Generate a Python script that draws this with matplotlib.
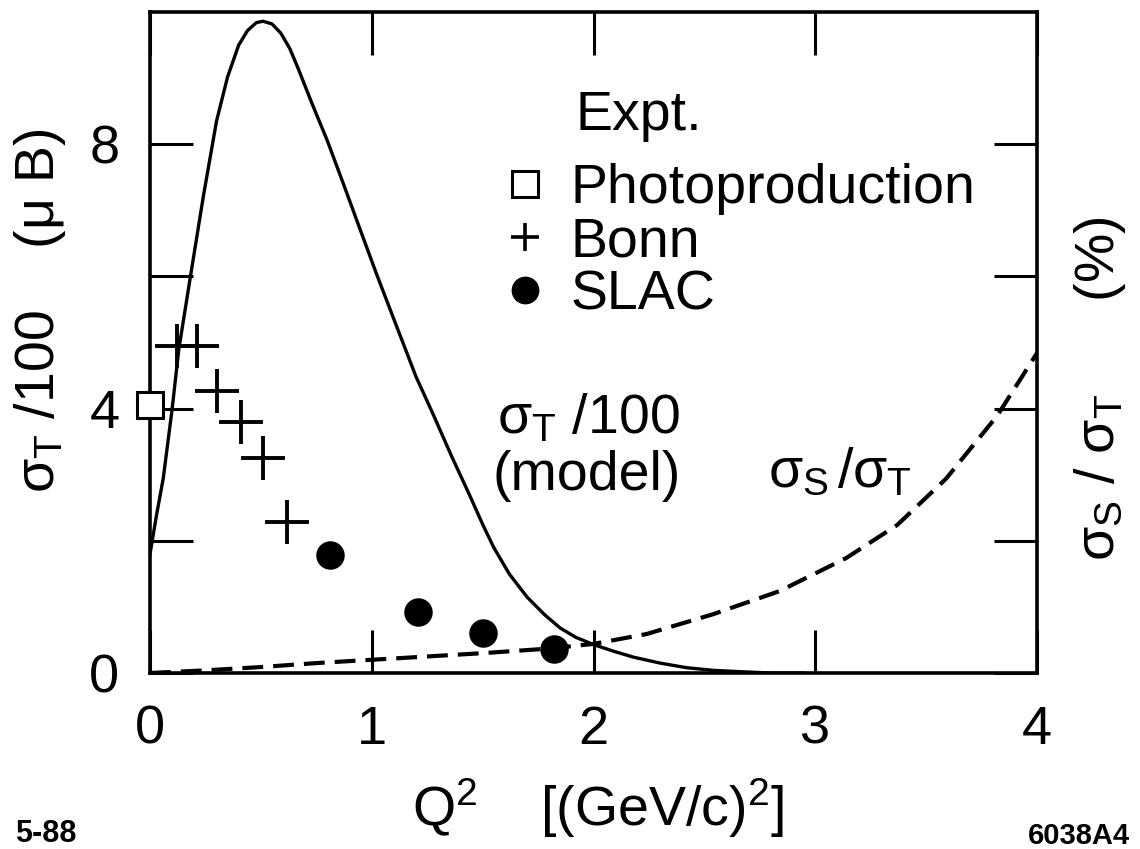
import matplotlib
matplotlib.use("Agg")
import matplotlib.pyplot as plt
from matplotlib.lines import Line2D

plt.rcParams['font.family'] = ['Liberation Sans', 'DejaVu Sans']
plt.rcParams['mathtext.fontset'] = 'custom'
plt.rcParams['mathtext.rm'] = 'Liberation Sans'
plt.rcParams['mathtext.it'] = 'Liberation Sans'
plt.rcParams['mathtext.bf'] = 'Liberation Sans:bold'

# model sigma_T/100 (solid line)
model_q2 = [0.0, 0.03, 0.06, 0.10, 0.13, 0.18, 0.24, 0.30, 0.35, 0.40, 0.44,
            0.48, 0.51, 0.55, 0.59, 0.63, 0.67, 0.73, 0.80, 0.87, 0.94, 1.02,
            1.10, 1.20, 1.28, 1.36, 1.44, 1.50, 1.55, 1.62, 1.70, 1.78, 1.85,
            1.92, 2.00, 2.09, 2.18, 2.30, 2.42, 2.54, 2.66, 2.80, 2.95]
model_sigma = [1.8, 2.4, 2.95, 4.0, 4.9, 5.95, 7.2, 8.35, 9.02, 9.5, 9.72,
               9.84, 9.86, 9.82, 9.68, 9.45, 9.13, 8.62, 8.05, 7.42, 6.78, 6.05,
               5.35, 4.48, 3.89, 3.28, 2.7, 2.25, 1.9, 1.5, 1.15, 0.88, 0.68,
               0.54, 0.43, 0.33, 0.24, 0.15, 0.08, 0.04, 0.02, 0.0, 0.0]

# sigma_S/sigma_T (dashed line)
ratio_q2 = [0.0, 0.25, 0.5, 0.75, 1.0, 1.25, 1.5, 1.8, 2.0, 2.24, 2.54, 2.84,
            3.14, 3.37, 3.59, 3.82, 4.0]
ratio_pct = [0.0, 0.04, 0.09, 0.15, 0.2, 0.25, 0.30, 0.37, 0.44, 0.59, 0.89,
             1.24, 1.74, 2.24, 2.94, 3.89, 4.84]

# experiments
photo_q2 = [0.0]
photo_sigma = [4.05]
bonn_q2 = [0.12, 0.21, 0.30, 0.41, 0.51, 0.62]
bonn_sigma = [4.94, 4.94, 4.26, 3.79, 3.26, 2.29]
slac_q2 = [0.81, 1.21, 1.50, 1.82]
slac_sigma = [1.78, 0.93, 0.61, 0.37]

x_ticks = [0, 1, 2, 3, 4]
y_ticks = [0, 2, 4, 6, 8]
y_tick_labels = ['0', '', '4', '', '8']

FS = 40

fig = plt.figure(figsize=(11.4, 8.49), dpi=100)
ax = fig.add_axes([150 / 1140, 1 - 673 / 849, 887 / 1140, 661 / 849])

ax.plot(model_q2, model_sigma, color='black', lw=2.4, zorder=3)
ax.plot(ratio_q2, ratio_pct, color='black', lw=3.0, dashes=(5, 2.4), zorder=3)

ax.plot(bonn_q2, bonn_sigma, ls='none', marker='+', ms=32, mew=2.8,
        color='black', zorder=4, clip_on=False)
ax.plot(slac_q2, slac_sigma, ls='none', marker='o', ms=19.5, color='black',
        zorder=4, clip_on=False)
ax.plot(photo_q2, photo_sigma, ls='none', marker='s', ms=18.5, mew=2.2,
        mfc='white', mec='black', zorder=5, clip_on=False)

ax.set_xlim(0, 4)
ax.set_ylim(0, 10)
ax.set_xticks(x_ticks)
ax.set_yticks(y_ticks)
ax.set_yticklabels(y_tick_labels)
ax.tick_params(direction='in', length=31, width=2.2, labelsize=39,
               top=True, right=True)
ax.tick_params(axis='y', pad=22)
ax.tick_params(axis='x', pad=23)
for s in ax.spines.values():
    s.set_linewidth(2.6)

# legend
handles = [
    Line2D([], [], ls='none', marker='s', ms=19, mew=2.2, mfc='white', mec='black'),
    Line2D([], [], ls='none', marker='+', ms=20, mew=2.6, color='black'),
    Line2D([], [], ls='none', marker='o', ms=19, color='black'),
]
ax.legend(handles, ['Photoproduction', 'Bonn', 'SLAC'], loc='upper left',
          bbox_to_anchor=((503 - 150) / 887, (673 - 163) / 661),
          frameon=False, fontsize=FS, handlelength=0.8, handletextpad=0.41,
          borderpad=0, borderaxespad=0, labelspacing=0.02)
ax.text((575 - 150) / 887, (673 - 130) / 661, 'Expt.', transform=ax.transAxes,
        fontsize=FS, ha='left', va='baseline')

# curve labels
ax.text((497 - 150) / 887, (673 - 433) / 661, r'$\sigma_\mathrm{T}$ /100',
        transform=ax.transAxes, fontsize=FS, ha='left', va='baseline')
ax.text((493 - 150) / 887, (673 - 490) / 661, '(model)',
        transform=ax.transAxes, fontsize=FS, ha='left', va='baseline')
ax.text((768 - 150) / 887, (673 - 487) / 661,
        r'$\sigma_\mathrm{S}\,/\sigma_\mathrm{T}$',
        transform=ax.transAxes, fontsize=FS, ha='left', va='baseline')

# axis labels
ax.text(-0.124, 0.548, r'$\sigma_\mathrm{T}$ /100    ($\mu$ B)',
        transform=ax.transAxes, fontsize=FS, rotation=90,
        ha='center', va='center')
ax.text(1.071, 0.43, r'$\sigma_\mathrm{S}$ / $\sigma_\mathrm{T}$      (%)',
        transform=ax.transAxes, fontsize=FS, rotation=90,
        ha='center', va='center')
ax.text(0.505, (673 - 808) / 661, r'Q$^2$    [(GeV/c)$^2$]',
        transform=ax.transAxes, fontsize=FS, ha='center', va='center')

fig.text(15 / 1140, 1 - 834 / 849, '5-88', fontsize=22, fontweight='bold',
         family=['Liberation Sans Narrow', 'Liberation Sans'],
         ha='left', va='center')
fig.text(1130 / 1140, 1 - 836 / 849, '6038A4', fontsize=21, fontweight='bold',
         family=['Liberation Sans Narrow', 'Liberation Sans'],
         ha='right', va='center')

fig.savefig('out.png', dpi=100)
